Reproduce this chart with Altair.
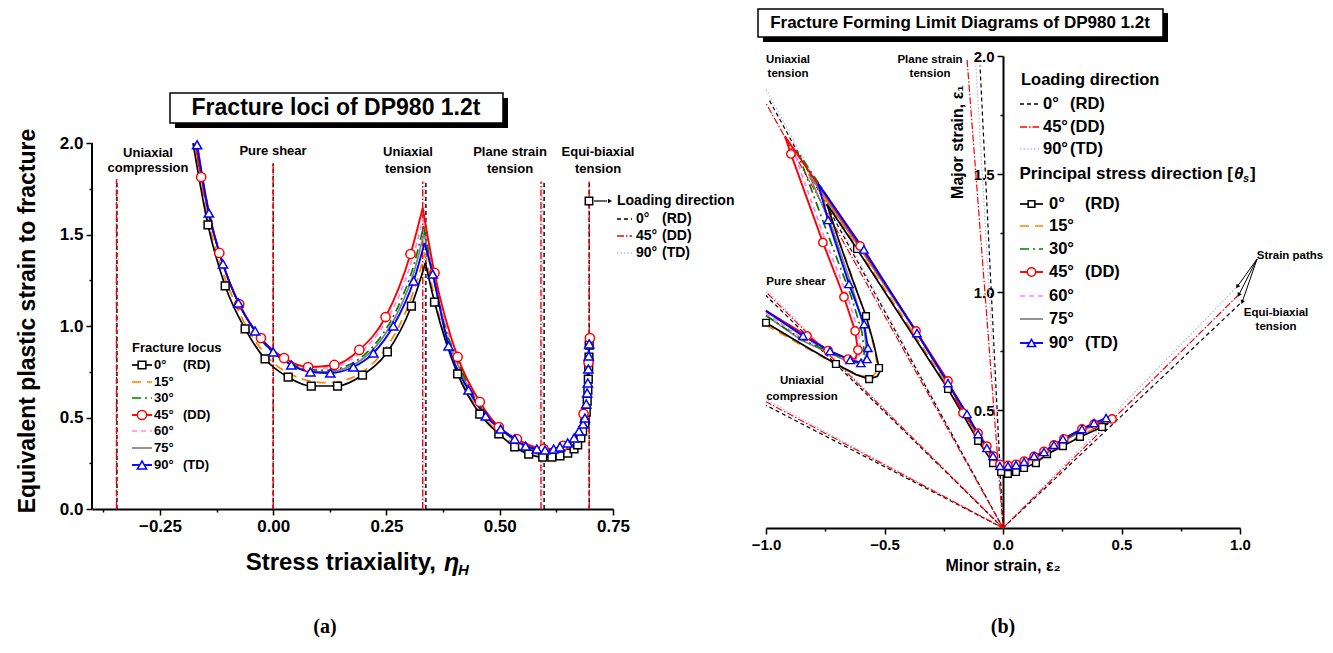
import math
import altair as alt
import pandas as pd

FONT = "Liberation Sans"
SERIF = "Liberation Serif"

# ---------------- shared series info ----------------
ANGLES = ["0°", "15°", "30°", "45°", "60°", "75°", "90°"]
PARENS = ["(RD)", "", "", "(DD)", "", "", "(TD)"]

# ---------------- panel (a): fracture loci (eta, eps_f) ----------------
a_eta_0 = [-0.177, -0.144, -0.106, -0.062, -0.018, 0.033, 0.084, 0.142, 0.197, 0.252, 0.305, 0.336,
           0.356, 0.407, 0.456, 0.498, 0.533, 0.564, 0.595, 0.615, 0.633, 0.650, 0.664, 0.672, 0.679,
           0.683, 0.688, 0.691, 0.693, 0.6945, 0.6955, 0.6963, 0.697, 0.6975]
a_eps_0 = [2.0, 1.552, 1.219, 0.984, 0.820, 0.720, 0.672, 0.672, 0.732, 0.858, 1.109, 1.344,
           1.131, 0.738, 0.519, 0.410, 0.339, 0.300, 0.284, 0.284, 0.290, 0.306, 0.328, 0.350, 0.388,
           0.426, 0.470, 0.530, 0.590, 0.650, 0.710, 0.770, 0.830, 0.896]
a_nomark_0 = [-0.177, 0.336]

a_grid_15 = [-0.172, -0.15, -0.12, -0.09, -0.06, -0.03, 0.0, 0.04, 0.08, 0.12, 0.16, 0.2, 0.24, 0.28, 0.31,
             0.335, 0.355, 0.38, 0.41, 0.45, 0.5, 0.55, 0.6, 0.64, 0.67, 0.685, 0.697]
a_eps_15 = [2.0, 1.66, 1.36, 1.16, 1.0, 0.885, 0.80, 0.735, 0.70, 0.69, 0.705, 0.755, 0.85, 1.01, 1.19,
            1.40, 1.17, 0.93, 0.73, 0.55, 0.415, 0.33, 0.295, 0.31, 0.36, 0.46, 0.89]

a_grid_30 = [-0.17, -0.15, -0.12, -0.09, -0.06, -0.03, 0.0, 0.04, 0.08, 0.12, 0.16, 0.2, 0.24, 0.28, 0.31,
             0.332, 0.355, 0.38, 0.41, 0.45, 0.5, 0.55, 0.6, 0.64, 0.67, 0.685, 0.697]
a_eps_30 = [2.0, 1.72, 1.41, 1.2, 1.05, 0.935, 0.855, 0.795, 0.762, 0.758, 0.78, 0.84, 0.95, 1.13, 1.33,
            1.546, 1.25, 0.99, 0.79, 0.585, 0.44, 0.355, 0.32, 0.34, 0.395, 0.50, 0.91]

a_eta_45 = [-0.172, -0.159, -0.119, -0.075, -0.027, 0.024, 0.077, 0.135, 0.19, 0.248, 0.303, 0.330,
            0.356, 0.407, 0.456, 0.498, 0.538, 0.57, 0.597, 0.62, 0.64, 0.66, 0.675, 0.685, 0.692, 0.696, 0.699]
a_eps_45 = [2.0, 1.814, 1.399, 1.12, 0.934, 0.825, 0.776, 0.787, 0.869, 1.049, 1.393, 1.645,
            1.29, 0.831, 0.585, 0.448, 0.382, 0.345, 0.328, 0.33, 0.345, 0.375, 0.43, 0.52, 0.65, 0.80, 0.934]
a_nomark_45 = [-0.172, 0.330, 0.57, 0.62, 0.66, 0.675, 0.692]

a_grid_60 = [-0.168, -0.15, -0.12, -0.09, -0.06, -0.03, 0.0, 0.04, 0.08, 0.12, 0.16, 0.2, 0.24, 0.28, 0.31,
             0.331, 0.355, 0.38, 0.41, 0.45, 0.5, 0.55, 0.6, 0.64, 0.67, 0.685, 0.697]
a_eps_60 = [2.0, 1.73, 1.41, 1.2, 1.055, 0.94, 0.865, 0.805, 0.772, 0.77, 0.80, 0.87, 0.99, 1.18, 1.39,
            1.59, 1.28, 1.01, 0.80, 0.595, 0.445, 0.36, 0.325, 0.343, 0.40, 0.51, 0.92]

a_grid_75 = [-0.168, -0.15, -0.12, -0.09, -0.06, -0.03, 0.0, 0.04, 0.08, 0.12, 0.16, 0.2, 0.24, 0.28, 0.31,
             0.333, 0.355, 0.38, 0.41, 0.45, 0.5, 0.55, 0.6, 0.64, 0.67, 0.685, 0.697]
a_eps_75 = [2.0, 1.72, 1.41, 1.2, 1.05, 0.935, 0.855, 0.79, 0.755, 0.75, 0.77, 0.825, 0.93, 1.1, 1.29,
            1.508, 1.25, 0.97, 0.775, 0.575, 0.44, 0.35, 0.32, 0.34, 0.395, 0.49, 0.90]

a_eta_90 = [-0.168, -0.142, -0.111, -0.077, -0.04, 0.0, 0.04, 0.082, 0.126, 0.177, 0.221, 0.265, 0.31,
            0.334, 0.352, 0.387, 0.431, 0.469, 0.502, 0.533, 0.557, 0.582, 0.6, 0.619, 0.633, 0.65,
            0.664, 0.675, 0.684, 0.688, 0.691, 0.693, 0.6945, 0.6955, 0.6965, 0.6975]
a_eps_90 = [1.99, 1.617, 1.339, 1.126, 0.973, 0.858, 0.787, 0.749, 0.743, 0.776, 0.852, 1.0, 1.246,
            1.454, 1.284, 0.891, 0.65, 0.508, 0.437, 0.383, 0.344, 0.328, 0.322, 0.328, 0.339, 0.361,
            0.388, 0.426, 0.464, 0.497, 0.574, 0.634, 0.689, 0.765, 0.836, 0.902]
a_nomark_90 = [0.334]

# loading-direction reference lines in (a)
a_load_eta_0 = [-0.345, 0.0, 0.337, 0.598, 0.6975]
a_load_eta_45 = [-0.346, 0.0, 0.330, 0.591, 0.6975]
a_load_eta_90 = [-0.345, 0.0, 0.334, 0.595, 0.6975]
a_load_top = [1.80, 1.89, 1.79, 1.79, 1.79]

# ---------------- panel (b): fracture forming limit (eps2, eps1) ----------------
b_x_0 = [-1.0, -0.85, -0.705, -0.62, -0.565, -0.53, -0.518, -0.523, -0.545, -0.578, -0.633, -0.69, -0.743,
         -0.616, -0.45, -0.232, -0.105, -0.042, -0.008, 0.021, 0.055, 0.089, 0.139, 0.186, 0.253, 0.325, 0.418, 0.445]
b_y_0 = [0.87, 0.78, 0.695, 0.65, 0.631, 0.643, 0.665, 0.678, 0.78, 0.898, 1.047, 1.21, 1.373,
         1.182, 0.925, 0.589, 0.369, 0.275, 0.237, 0.229, 0.237, 0.254, 0.275, 0.313, 0.347, 0.386, 0.428, 0.445]
b_nomark_0 = [-0.85, -0.62, -0.53, -0.518, -0.545, -0.633, -0.69, -0.743, -0.45, 0.445]

b_x_15 = [-1.0, -0.85, -0.7, -0.6, -0.55, -0.53, -0.535, -0.55, -0.58, -0.65, -0.72, -0.78, -0.6, -0.4,
          -0.232, -0.105, -0.04, 0.0, 0.05, 0.15, 0.25, 0.35, 0.45]
b_y_15 = [0.86, 0.775, 0.69, 0.645, 0.64, 0.67, 0.72, 0.79, 0.90, 1.10, 1.30, 1.44, 1.165, 0.86,
          0.60, 0.385, 0.29, 0.25, 0.25, 0.29, 0.35, 0.405, 0.45]

b_x_30 = [-1.0, -0.85, -0.72, -0.64, -0.6, -0.585, -0.595, -0.64, -0.73, -0.84, -0.87, -0.6, -0.37,
          -0.232, -0.105, -0.04, 0.0, 0.05, 0.15, 0.25, 0.35, 0.45]
b_y_30 = [0.90, 0.80, 0.74, 0.705, 0.705, 0.74, 0.83, 0.98, 1.22, 1.52, 1.60, 1.19, 0.84,
          0.615, 0.40, 0.30, 0.26, 0.262, 0.31, 0.37, 0.425, 0.46]

b_x_45 = [-1.0, -0.827, -0.738, -0.654, -0.622, -0.612, -0.624, -0.671, -0.76, -0.895, -0.92, -0.603,
          -0.367, -0.232, -0.169, -0.105, -0.068, -0.04, -0.013, 0.021, 0.055, 0.089, 0.131, 0.173,
          0.215, 0.257, 0.333, 0.384, 0.46]
b_y_45 = [0.92, 0.814, 0.752, 0.716, 0.718, 0.754, 0.835, 0.979, 1.21, 1.585, 1.66, 1.195,
          0.835, 0.623, 0.487, 0.402, 0.347, 0.305, 0.27, 0.265, 0.27, 0.283, 0.303, 0.325,
          0.352, 0.378, 0.42, 0.44, 0.462]
b_nomark_45 = [-1.0, -0.622, -0.92]

b_x_60 = [-1.0, -0.85, -0.72, -0.65, -0.615, -0.6, -0.61, -0.655, -0.75, -0.86, -0.89, -0.6, -0.37,
          -0.232, -0.105, -0.04, 0.0, 0.05, 0.15, 0.25, 0.35, 0.45]
b_y_60 = [0.91, 0.805, 0.75, 0.712, 0.71, 0.75, 0.83, 0.98, 1.22, 1.53, 1.62, 1.19, 0.84,
          0.618, 0.40, 0.302, 0.262, 0.264, 0.312, 0.372, 0.427, 0.46]

b_x_75 = [-1.0, -0.85, -0.72, -0.64, -0.59, -0.575, -0.585, -0.63, -0.72, -0.82, -0.6, -0.37,
          -0.232, -0.105, -0.04, 0.0, 0.05, 0.15, 0.25, 0.35, 0.45]
b_y_75 = [0.90, 0.795, 0.735, 0.70, 0.70, 0.74, 0.84, 1.0, 1.27, 1.50, 1.18, 0.835,
          0.61, 0.395, 0.298, 0.258, 0.26, 0.305, 0.365, 0.42, 0.46]

b_x_90 = [-1.0, -0.844, -0.73, -0.645, -0.6, -0.574, -0.57, -0.586, -0.65, -0.738, -0.78, -0.587,
          -0.363, -0.232, -0.152, -0.105, -0.068, -0.042, -0.013, 0.021, 0.055, 0.089, 0.131, 0.173,
          0.215, 0.253, 0.333, 0.384, 0.435]
b_y_90 = [0.92, 0.814, 0.75, 0.712, 0.699, 0.716, 0.763, 0.864, 1.034, 1.305, 1.46, 1.18,
          0.826, 0.614, 0.483, 0.398, 0.339, 0.305, 0.263, 0.263, 0.267, 0.28, 0.305, 0.322,
          0.352, 0.377, 0.419, 0.445, 0.466]
b_nomark_90 = [-1.0, -0.78]

# strain paths (end points, start at origin): UT, PS, SH, UC, EB
b_path_x_0 = [-0.99, -0.097, -1.0, -1.0, 1.01]
b_path_y_0 = [1.82, 1.96, 0.985, 0.52, 0.96]
b_path_x_45 = [-1.0, -0.152, -1.0, -1.0, 0.996]
b_path_y_45 = [1.80, 1.99, 1.0, 0.535, 0.99]
b_path_x_90 = [-1.0, -0.115, -1.0, -1.0, 0.99]
b_path_y_90 = [1.86, 1.97, 1.01, 0.545, 1.025]
b_arrow_start = [1.072, 1.14]

# ---------------- styles ----------------
COLORS = ["#000000", "#ff8000", "#008000", "#ff0000", "#ff80ff", "#808080", "#0000ff"]
DASHES = [None, [9, 6], [9, 4, 2, 4], None, [5, 4], None, None]
WIDTHS = [1.7, 1.7, 1.7, 1.9, 1.7, 1.7, 1.9]
SHAPES = ["square", None, None, "circle", None, None, "triangle-up"]
LD_NAMES = ["0°", "45°", "90°"]
LD_PARENS = ["(RD)", "(DD)", "(TD)"]
LD_COLORS = ["#000000", "#ff0000", "#b4b4ee"]
LD_DASH = [[4, 3], [7, 2, 1.5, 2], [1.5, 2]]

AW, AH = 521, 453
A_YMAX = AH / 183.0
BW, BH = 474, 472


def line_kw(color, dash, width):
    kw = dict(color=color, strokeWidth=width)
    if dash:
        kw["strokeDash"] = dash
    return kw


def text(s, x, y, size, weight="bold", align="center", baseline="middle", angle=None,
         font=FONT, style=None, color="black"):
    kw = dict(fontSize=size, fontWeight=weight, align=align, baseline=baseline, font=font, color=color)
    if angle is not None:
        kw["angle"] = angle
    if style:
        kw["fontStyle"] = style
    return alt.Chart(pd.DataFrame({"t": [s]})).mark_text(**kw).encode(
        x=alt.value(x), y=alt.value(y), text="t:N")


def rect(x1, y1, x2, y2, fill, stroke=None, sw=1.5):
    kw = dict(fill=fill)
    if stroke:
        kw["stroke"] = stroke
        kw["strokeWidth"] = sw
    return alt.Chart(pd.DataFrame({"a": [0]})).mark_rect(**kw).encode(
        x=alt.value(x1), x2=alt.value(x2), y=alt.value(y1), y2=alt.value(y2))


def hrule(x1, x2, y, color, dash, width):
    return alt.Chart(pd.DataFrame({"a": [0]})).mark_rule(**line_kw(color, dash, width)).encode(
        x=alt.value(x1), x2=alt.value(x2), y=alt.value(y))


def pt(x, y, shape, color, size, hollow=True):
    if hollow:
        m = dict(shape=shape, size=size, filled=True, fill="white", stroke=color, strokeWidth=1.5, opacity=1)
    else:
        m = dict(shape=shape, size=size, filled=True, color=color, opacity=1)
    return alt.Chart(pd.DataFrame({"a": [0]})).mark_point(**m).encode(x=alt.value(x), y=alt.value(y))


AXIS_STYLE = dict(domainColor="black", tickColor="black", tickWidth=1.5, labelFont=FONT,
                  labelFontWeight="bold", labelColor="black", grid=False, title=None,
                  labelFlush=False, labelOverlap=False)


def minor_axis(values, mult, fmt, size, **extra):
    test = f"abs(datum.value*{mult} - round(datum.value*{mult})) > 0.001"
    return alt.Axis(values=values,
                    labelExpr=f"({test}) ? '' : format(datum.value, '{fmt}')",
                    tickSize={"condition": {"test": test, "value": 3}, "value": 6},
                    labelFontSize=size, **AXIS_STYLE, **extra)


# ---------------- panel (a) ----------------
ax_a_x = minor_axis([-0.375 + 0.125 * i for i in range(10)], 4, ".2f", 17, domainWidth=2, labelPadding=3)
ax_a_y = minor_axis([0.25 * i for i in range(9)], 2, ".1f", 17, domain=False, labelPadding=3)
sc_a_x = alt.Scale(domain=[-0.4, 0.75], nice=False, zero=False)
sc_a_y = alt.Scale(domain=[0, A_YMAX], nice=False, zero=False)


def XA(f):
    return alt.X(f"{f}:Q", scale=sc_a_x, axis=ax_a_x)


def YA(f):
    return alt.Y(f"{f}:Q", scale=sc_a_y, axis=ax_a_y)


def a_line_df(eta, eps):
    cand = [i for i, e in enumerate(eta) if 0.25 < e < 0.4]
    k = max(cand, key=lambda i: eps[i])
    rows = []
    for i, (x, y) in enumerate(zip(eta, eps)):
        if i <= k:
            rows.append(dict(eta=x, eps=y, seg=0))
        if i >= k:
            rows.append(dict(eta=x, eps=y, seg=1))
    return pd.DataFrame(rows)


A_ETA = [a_eta_0, a_grid_15, a_grid_30, a_eta_45, a_grid_60, a_grid_75, a_eta_90]
A_EPS = [a_eps_0, a_eps_15, a_eps_30, a_eps_45, a_eps_60, a_eps_75, a_eps_90]
A_NOMARK = {0: a_nomark_0, 3: a_nomark_45, 6: a_nomark_90}
A_LOAD = [a_load_eta_0, a_load_eta_45, a_load_eta_90]

la = []
la.append(alt.Chart(pd.DataFrame({"y0": [0.0], "y1": [2.0]})).mark_rule(color="black", strokeWidth=2).encode(
    x=alt.value(0), y=YA("y0"), y2="y1:Q"))
for k in [2, 0, 1]:
    df = pd.DataFrame({"eta": A_LOAD[k], "y0": 0.0, "y1": a_load_top})
    la.append(alt.Chart(df).mark_rule(**line_kw(LD_COLORS[k], LD_DASH[k], 1.4)).encode(
        x=XA("eta"), y=YA("y0"), y2="y1:Q"))
for i in [5, 4, 2, 1, 0, 3, 6]:
    la.append(alt.Chart(a_line_df(A_ETA[i], A_EPS[i])).mark_line(
        interpolate="monotone", **line_kw(COLORS[i], DASHES[i], WIDTHS[i])).encode(
        x=XA("eta"), y=YA("eps"), detail="seg:N"))
A_SIZES = {0: 60, 3: 85, 6: 85}
for i in [0, 3, 6]:
    pts = [(e, p) for e, p in zip(A_ETA[i], A_EPS[i]) if e not in A_NOMARK[i]]
    df = pd.DataFrame(pts, columns=["eta", "eps"])
    la.append(alt.Chart(df).mark_point(shape=SHAPES[i], size=A_SIZES[i], filled=True, fill="white",
                                       stroke=COLORS[i], strokeWidth=1.5, opacity=1).encode(
        x=XA("eta"), y=YA("eps")))

for s, x, y in [("Uniaxial", 56, 97), ("compression", 56, 112), ("Pure shear", 181, 95),
                ("Uniaxial", 316, 96), ("tension", 316, 113), ("Plane strain", 418, 96),
                ("tension", 418, 113), ("Equi-biaxial", 506, 96), ("tension", 506, 113)]:
    la.append(text(s, x, y, 13))

# fracture locus legend
la.append(text("Fracture locus", 40, 292, 13, align="left"))
for i, y in enumerate([309, 326, 342, 359, 375, 392, 409]):
    la.append(hrule(40, 60, y, COLORS[i], DASHES[i], WIDTHS[i]))
    if SHAPES[i]:
        la.append(pt(50, y, SHAPES[i], COLORS[i], A_SIZES[i]))
    la.append(text(ANGLES[i], 62, y, 13, align="left"))
    if PARENS[i]:
        la.append(text(PARENS[i], 91, y, 13, align="left"))

# loading direction legend
la.append(hrule(502, 515, 145, "black", None, 1.2))
la.append(pt(518, 145, "triangle-right", "black", 22, hollow=False))
la.append(pt(497, 145, "square", "black", 55))
la.append(text("Loading direction", 525, 145, 14, align="left"))
for k, y in enumerate([163, 180, 197]):
    la.append(hrule(525, 540, y, LD_COLORS[k], LD_DASH[k], 1.4))
    la.append(text(LD_NAMES[k], 544, y, 14, align="left"))
    la.append(text(LD_PARENS[k], 570, y, 14, align="left"))

# title box
la.append(rect(83, 42, 416, 72, "black"))
la.append(rect(78, 37, 411, 67, "white", "black", 1.5))
la.append(text("Fracture loci of DP980 1.2t", 244, 52, 23))

# axis titles
la.append(text("Equivalent plastic strain to fracture", -64, 265, 23, angle=270))
la.append(text("Stress triaxiality,", 344, 507, 24, align="right"))
la.append(text("η", 352, 507, 25, align="left", style="italic"))
la.append(text("H", 366, 514, 15, align="left", style="italic"))
la.append(text("(a)", 233, 571, 20, font=SERIF))

panel_a = alt.layer(*la).properties(width=AW, height=AH)

# ---------------- panel (b) ----------------
ax_b_x = minor_axis([-1 + 0.25 * i for i in range(9)], 2, ".1f", 15, domainWidth=2, labelPadding=3)
ax_b_y = minor_axis([0.25 * i for i in range(1, 9)], 2, ".1f", 15, domainWidth=2, labelPadding=3,
                    orient="left", offset=-BW / 2)
sc_b_x = alt.Scale(domain=[-1, 1], nice=False, zero=False)
sc_b_y = alt.Scale(domain=[0, 2], nice=False, zero=False)


def XB(f):
    return alt.X(f"{f}:Q", scale=sc_b_x, axis=ax_b_x)


def YB(f):
    return alt.Y(f"{f}:Q", scale=sc_b_y, axis=ax_b_y)


B_X = [b_x_0, b_x_15, b_x_30, b_x_45, b_x_60, b_x_75, b_x_90]
B_Y = [b_y_0, b_y_15, b_y_30, b_y_45, b_y_60, b_y_75, b_y_90]
B_NOMARK = {0: b_nomark_0, 3: b_nomark_45, 6: b_nomark_90}
B_PX = [b_path_x_0, b_path_x_45, b_path_x_90]
B_PY = [b_path_y_0, b_path_y_45, b_path_y_90]

lb = []
for k in [2, 0, 1]:
    df = pd.DataFrame({"x0": 0.0, "y0": 0.0, "x1": B_PX[k], "y1": B_PY[k]})
    lb.append(alt.Chart(df).mark_rule(**line_kw(LD_COLORS[k], LD_DASH[k], 1.2)).encode(
        x=XB("x0"), y=YB("y0"), x2="x1:Q", y2="y1:Q"))
for i in [5, 4, 2, 1, 0, 3, 6]:
    df = pd.DataFrame({"x": B_X[i], "y": B_Y[i], "i": list(range(len(B_X[i])))})
    lb.append(alt.Chart(df).mark_line(interpolate="linear", **line_kw(COLORS[i], DASHES[i], WIDTHS[i])).encode(
        x=XB("x"), y=YB("y"), order="i:Q"))
B_SIZES = {0: 45, 3: 70, 6: 70}
for i in [0, 3, 6]:
    pts = [(a, b) for a, b in zip(B_X[i], B_Y[i]) if a not in B_NOMARK[i]]
    df = pd.DataFrame(pts, columns=["x", "y"])
    lb.append(alt.Chart(df).mark_point(shape=SHAPES[i], size=B_SIZES[i], filled=True, fill="white",
                                       stroke=COLORS[i], strokeWidth=1.4, opacity=1).encode(
        x=XB("x"), y=YB("y")))

# arrows "Strain paths"
xs, ys = b_arrow_start
ends = [(B_PX[k][4], B_PY[k][4]) for k in range(3)]
arr = pd.DataFrame({"xs": xs, "ys": ys, "xe": [e[0] for e in ends], "ye": [e[1] for e in ends]})
arr["ang"] = [(math.degrees(math.atan2((xe - xs) * BW / 2, (ye - ys) * BH / 2)) + 360) % 360
              for xe, ye in ends]
lb.append(alt.Chart(arr).mark_rule(color="black", strokeWidth=1).encode(
    x=XB("xs"), y=YB("ys"), x2="xe:Q", y2="ye:Q"))
lb.append(alt.Chart(arr).mark_point(shape="triangle", size=22, filled=True, color="black", opacity=1).encode(
    x=XB("xe"), y=YB("ye"), angle=alt.Angle("ang:Q", scale=None)))

for s, x, y in [("Uniaxial", 22, 4), ("tension", 22, 18), ("Plane strain", 164, 4), ("tension", 164, 18),
                ("Pure shear", 30, 226), ("Uniaxial", 36, 325), ("compression", 36, 341),
                ("Strain paths", 524, 200), ("Equi-biaxial", 510, 257), ("tension", 510, 271)]:
    lb.append(text(s, x, y, 11.5))

# legends
LFS = 16.5
lb.append(text("Loading direction", 255, 24, LFS, align="left"))
for k, y in enumerate([48, 71, 93]):
    lb.append(hrule(254, 273, y, LD_COLORS[k], LD_DASH[k], 1.4))
    lb.append(text(LD_NAMES[k], 277, y, LFS, align="left"))
    lb.append(text(LD_PARENS[k], 304, y, LFS, align="left"))
lb.append(text("Principal stress direction [", 467, 118, 17, align="right"))
lb.append(text("θ", 468, 118, 17, align="left", style="italic"))
lb.append(text("s", 477, 123, 11, align="left", style="italic"))
lb.append(text("]", 484, 118, 17, align="left"))
for i, y in enumerate([148, 170, 193, 216, 240, 263, 287]):
    lb.append(hrule(254, 277, y, COLORS[i], DASHES[i], WIDTHS[i]))
    if SHAPES[i]:
        lb.append(pt(265.5, y, SHAPES[i], COLORS[i], B_SIZES[i]))
    lb.append(text(ANGLES[i], 283, y, LFS, align="left"))
    if PARENS[i]:
        lb.append(text(PARENS[i], 319, y, LFS, align="left"))

# title box
lb.append(rect(-3, -43, 402, -14, "black"))
lb.append(rect(-8, -47, 397, -19, "white", "black", 1.5))
lb.append(text("Fracture Forming Limit Diagrams of DP980 1.2t", 194, -33, 17))

# axis titles
lb.append(text("Major strain, ε₁", 192, 86, 16, angle=270))
lb.append(text("Minor strain, ε₂", 237, 510, 16))
lb.append(text("(b)", 237, 571, 20, font=SERIF))

panel_b = alt.layer(*lb).properties(width=BW, height=BH)

chart = alt.hconcat(panel_a, panel_b, spacing=153, bounds="flush").properties(
    padding={"left": 8, "top": 0, "right": 0, "bottom": 0}, background="white"
).configure_view(strokeWidth=0)

chart.save("out.html", embed_options={"renderer": "svg", "actions": False})
